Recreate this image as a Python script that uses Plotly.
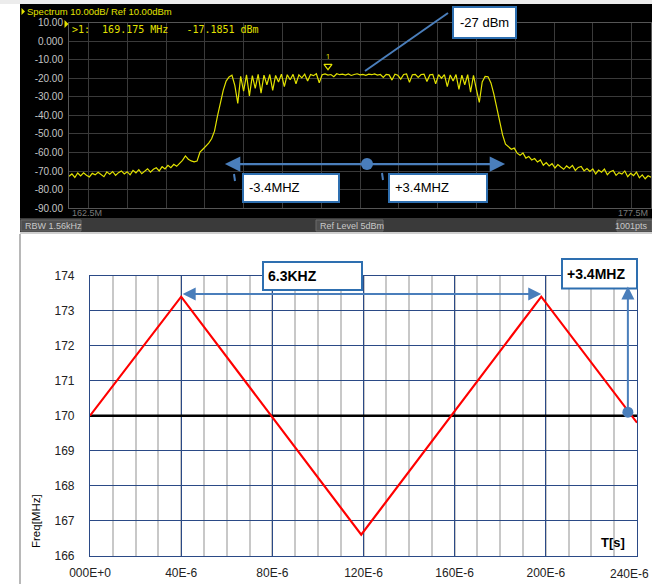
import plotly.graph_objects as go

W, H = 652, 584


def px(x):
    return x / W


def py(y):
    return 1 - y / H


# ---------------- Spectrum analyzer (top panel) ----------------
spec_start_mhz = 162.5
spec_stop_mhz = 177.5
spec_level_dbm = [
    -72.8, -71.5, -73.4, -71.0, -72.6, -70.9, -72.2, -73.1, -71.2, -72.0,
    -70.6, -71.9, -73.0, -70.4, -71.6, -70.2, -72.3, -70.8, -69.9, -71.5,
    -70.3, -72.0, -69.6, -70.9, -69.2, -71.4, -69.8, -68.7, -70.5, -69.0,
    -68.2, -69.9, -67.6, -68.8, -66.9, -68.1, -66.3, -67.4, -65.8, -64.2,
    -61.8, -63.6, -64.5, -65.0, -64.6, -59.8, -58.2, -56.6, -54.9, -52.6,
    -48.5, -40.5, -33.0, -26.5, -21.5, -19.3, -18.4, -24.0, -33.5, -19.0,
    -27.0, -18.2, -29.5, -18.6, -25.5, -17.9, -28.0, -18.3, -23.5, -18.0,
    -26.5, -18.5, -22.0, -17.8, -24.5, -18.1, -20.8, -17.9, -23.0, -18.2,
    -19.8, -17.8, -21.5, -18.0, -18.6, -17.6, -22.4, -18.1, -17.7, -18.3,
    -18.0, -19.2, -17.6, -18.1, -17.8, -18.3, -17.7, -18.5, -18.0, -17.6,
    -18.2, -17.9, -18.4, -17.8, -18.1, -17.7, -18.3, -18.0, -19.5, -17.9,
    -18.2, -21.0, -17.8, -18.4, -20.5, -18.0, -17.7, -22.2, -18.1, -17.9,
    -19.6, -18.0, -17.8, -21.8, -18.2, -17.9, -23.0, -18.1, -20.0, -18.0,
    -24.5, -18.2, -21.5, -18.0, -26.0, -18.3, -23.5, -18.1, -27.5, -18.4,
    -26.0, -33.0, -22.0, -19.0, -19.2, -22.5, -28.5, -36.0, -44.0, -50.5,
    -55.5, -57.0, -58.2, -57.6, -60.3, -61.5, -60.2, -63.0, -62.1, -64.0,
    -63.2, -65.1, -64.0, -66.8, -65.4, -67.2, -66.0, -68.3, -66.5, -67.8,
    -69.0, -67.2, -68.4, -66.9, -69.6, -68.0, -67.5, -69.9, -68.6, -70.2,
    -68.8, -71.5, -69.4, -70.6, -68.9, -71.9, -70.3, -69.6, -72.3, -70.8,
    -71.6, -69.9, -73.0, -71.2, -72.4, -70.5, -73.6, -72.0, -74.1, -72.5,
    -73.2,
]
n_pts = len(spec_level_dbm)
spec_freq_mhz = [spec_start_mhz + (spec_stop_mhz - spec_start_mhz) * i / (n_pts - 1)
                 for i in range(n_pts)]

spec_grid_mhz = list(range(163, 178))
spec_y_ticks = [10, 0, -10, -20, -30, -40, -50, -60, -70, -80, -90]
spec_y_labels = ["10.00", "0.000", "-10.00", "-20.00", "-30.00", "-40.00",
                 "-50.00", "-60.00", "-70.00", "-80.00", "-90.00"]

marker_freq_mhz = 169.175
marker_level_dbm = -17.1851
band_low_mhz = 166.48
band_high_mhz = 173.74
arrow_level_dbm = -66.2

# ---------------- Triangle sweep (bottom panel) ----------------
sweep_t_us = [0, 40, 119, 198, 240]
sweep_f_mhz = [170.0, 173.4, 166.6, 173.4, 169.8]
center_f_mhz = 170.0
x_tick_vals = [0, 40, 80, 120, 160, 200]
x_tick_text = ["000E+0", "40E-6", "80E-6", "120E-6", "160E-6", "200E-6"]
x_last_tick_text = "240E-6"
y_tick_vals = [166, 167, 168, 169, 170, 171, 172, 173, 174]

period_arrow_t = (40, 198)
period_arrow_f = 173.48
dev_arrow_t = 236
dev_arrow_f = (170.1, 173.69)

YEL = "#e2e200"
BLUE = "#4a7ebb"
BOXBLUE = "#2e6fb0"
NAVY = "#2b4a86"

fig = go.Figure()

fig.add_trace(go.Scatter(
    x=spec_freq_mhz, y=spec_level_dbm, mode="lines",
    line=dict(color=YEL, width=1.2), xaxis="x", yaxis="y", showlegend=False,
    hoverinfo="skip"))
fig.add_trace(go.Scatter(
    x=[marker_freq_mhz], y=[-13.5], mode="markers+text", text=["1"],
    textposition="top center", textfont=dict(color=YEL, size=8),
    marker=dict(symbol="triangle-down-open", size=7, color=YEL, line=dict(width=1.2)),
    xaxis="x", yaxis="y", showlegend=False, hoverinfo="skip"))
fig.add_trace(go.Scatter(
    x=[marker_freq_mhz], y=[-91.6], mode="markers",
    marker=dict(symbol="triangle-up", size=7, color=YEL),
    xaxis="x", yaxis="y", showlegend=False, hoverinfo="skip", cliponaxis=False))

fig.add_trace(go.Scatter(
    x=[0, 240], y=[center_f_mhz, center_f_mhz], mode="lines",
    line=dict(color="black", width=2.5), xaxis="x2", yaxis="y2",
    showlegend=False, hoverinfo="skip"))
fig.add_trace(go.Scatter(
    x=sweep_t_us, y=sweep_f_mhz, mode="lines",
    line=dict(color="#ff0000", width=2.2), xaxis="x2", yaxis="y2",
    showlegend=False, hoverinfo="skip"))
fig.add_trace(go.Scatter(
    x=[dev_arrow_t], y=[dev_arrow_f[0]], mode="markers",
    marker=dict(color=BLUE, size=11), xaxis="x2", yaxis="y2",
    showlegend=False, hoverinfo="skip", cliponaxis=False))

shapes = []


def rect(x0, y0, x1, y1, fill, line_color=None, lw=0, layer="below"):
    shapes.append(dict(type="rect", xref="paper", yref="paper",
                       x0=px(x0), x1=px(x1), y0=py(y1), y1=py(y0),
                       fillcolor=fill, layer=layer,
                       line=dict(color=line_color or fill, width=lw)))


def line(x0, y0, x1, y1, color, w, layer="above"):
    shapes.append(dict(type="line", xref="paper", yref="paper",
                       x0=px(x0), x1=px(x1), y0=py(y0), y1=py(y1),
                       layer=layer, line=dict(color=color, width=w)))


def tri(pts, color):
    d = "M " + " L ".join(f"{px(a)},{py(b)}" for a, b in pts) + " Z"
    shapes.append(dict(type="path", xref="paper", yref="paper", path=d,
                       fillcolor=color, line=dict(color=color, width=0), layer="above"))


rect(0, 0, 652, 4, "#ececec")
rect(20, 4, 652, 219, "#000000")
rect(20, 218, 652, 232, "#3a3a3a")
rect(21, 220, 81, 231, "#4e4e4e", "#6a6a6a", 1)
rect(316, 220, 383, 231, "#4e4e4e", "#6a6a6a", 1)
rect(617, 220, 652, 231, "#4e4e4e", "#6a6a6a", 1)
rect(20, 232, 652, 234, "#cfcfcf")
line(20, 234, 20, 584, "#b8b8b8", 2, layer="below")
tri([(21.5, 8), (21.5, 15), (25, 11.5)], YEL)
tri([(64.5, 20), (64.5, 28), (68.5, 24)], YEL)

# spectrum annotations
line(448, 13, 365, 71, BLUE, 2)
rect(453, 7, 516, 38, "white", BOXBLUE, 2, layer="above")
rect(243, 174, 339, 202, "white", BOXBLUE, 2, layer="above")
rect(389, 174, 487, 202, "white", BOXBLUE, 2, layer="above")
line(234, 174, 235, 181, BLUE, 2)
line(382, 173, 383, 180, BLUE, 2)
shapes.append(dict(type="circle", xref="paper", yref="paper",
                   x0=px(361), x1=px(373), y0=py(170), y1=py(158),
                   fillcolor=BLUE, line=dict(color=BLUE, width=0), layer="above"))

# bottom chart boxes
rect(263, 262, 362, 290, "white", BOXBLUE, 2, layer="above")
rect(562, 259, 637, 288.5, "white", BOXBLUE, 2, layer="above")

annotations = []


def text(x, y, s, size, color, xanchor="left", bold=False, family="Liberation Sans",
         angle=0):
    annotations.append(dict(xref="paper", yref="paper", x=px(x), y=py(y),
                            text=f"<b>{s}</b>" if bold else s, showarrow=False,
                            xanchor=xanchor, yanchor="middle", textangle=angle,
                            font=dict(size=size, color=color, family=family)))


text(25, 11.5, "Spectrum 10.00dB/ Ref 10.00dBm", 9.5, YEL)
text(70, 29, f">1:  {marker_freq_mhz:.3f} MHz   {marker_level_dbm:.4f} dBm", 10, YEL,
     family="DejaVu Sans Mono")
text(70, 213, "162.5M", 9, "#7a7a7a")
text(650, 213, "177.5M", 9, "#7a7a7a", xanchor="right")
text(23, 225.5, "RBW 1.56kHz", 9, "#c8c8c8")
text(318, 225.5, "Ref Level 5dBm", 9, "#c8c8c8")
text(650, 225.5, "1001pts", 9, "#c8c8c8", xanchor="right")

text(458, 22, "-27 dBm", 13, "black")
text(247, 187.5, "-3.4MHZ", 13, "black")
text(393, 187.5, "+3.4MHZ", 13, "black")

text(266, 275.5, "6.3KHZ", 14, "black", bold=True)
text(565, 274, "+3.4MHZ", 14, "black", bold=True)
text(613, 542, "T[s]", 13, "black", xanchor="center", bold=True)
text(36, 521, "Freq[MHz]", 11.5, "black", xanchor="center", angle=-90)
text(651, 574, x_last_tick_text, 12, "#222222", xanchor="right")

# arrows
annotations.append(dict(xref="x", yref="y", axref="x", ayref="y",
                        x=band_high_mhz, y=arrow_level_dbm,
                        ax=band_low_mhz, ay=arrow_level_dbm, text="",
                        showarrow=True, arrowhead=2, arrowside="end+start",
                        arrowsize=1.4, arrowwidth=2.2, arrowcolor=BLUE, standoff=0,
                        startstandoff=0))
annotations.append(dict(xref="x2", yref="y2", axref="x2", ayref="y2",
                        x=period_arrow_t[1], y=period_arrow_f,
                        ax=period_arrow_t[0], ay=period_arrow_f, text="",
                        showarrow=True, arrowhead=2, arrowside="end+start",
                        arrowsize=1.3, arrowwidth=2, arrowcolor=BLUE, standoff=0,
                        startstandoff=0))
annotations.append(dict(xref="x2", yref="y2", axref="x2", ayref="y2",
                        x=dev_arrow_t, y=dev_arrow_f[1],
                        ax=dev_arrow_t, ay=dev_arrow_f[0], text="",
                        showarrow=True, arrowhead=2, arrowside="end",
                        arrowsize=1.3, arrowwidth=2, arrowcolor=BLUE, standoff=0))

fig.update_layout(
    width=W, height=H, margin=dict(l=0, r=0, t=0, b=0, autoexpand=False),
    paper_bgcolor="white", plot_bgcolor="rgba(0,0,0,0)",
    shapes=shapes, annotations=annotations, showlegend=False,
    xaxis=dict(domain=[px(69), px(651)], range=[spec_start_mhz, spec_stop_mhz],
               tickvals=spec_grid_mhz, showticklabels=False, ticks="",
               showgrid=True, gridcolor="#3a3a3a", gridwidth=1, zeroline=False,
               showline=True, linecolor="#555555", linewidth=1, mirror=True,
               anchor="y", fixedrange=True, automargin=False),
    yaxis=dict(domain=[py(208.3), py(22.5)], range=[-90, 10],
               tickvals=spec_y_ticks, ticktext=spec_y_labels, ticks="",
               tickfont=dict(size=10, color="#c4c4c4", family="Liberation Sans"),
               ticklabelstandoff=3,
               showgrid=True, gridcolor="#3a3a3a", gridwidth=1, zeroline=False,
               showline=True, linecolor="#555555", linewidth=1, mirror=True,
               anchor="x", fixedrange=True, automargin=False),
    xaxis2=dict(domain=[px(90), px(637)], range=[0, 240],
                tickvals=x_tick_vals, ticktext=x_tick_text, ticks="",
                tickfont=dict(size=12, color="#222222", family="Liberation Sans"),
                ticklabelstandoff=6,
                showgrid=True, gridcolor=NAVY, gridwidth=1.2, zeroline=False,
                minor=dict(dtick=10, showgrid=True, gridcolor="#c8c8c8", gridwidth=1.5),
                showline=True, linecolor=NAVY, linewidth=1.2, mirror=True,
                anchor="y2", fixedrange=True, automargin=False),
    yaxis2=dict(domain=[py(555.7), py(275.7)], range=[166, 174],
                tickvals=y_tick_vals, ticks="",
                tickfont=dict(size=12, color="#222222", family="Liberation Sans"),
                ticklabelstandoff=12,
                showgrid=True, gridcolor=NAVY, gridwidth=1.2, zeroline=False,
                showline=True, linecolor=NAVY, linewidth=1.2, mirror=True,
                anchor="x2", fixedrange=True, automargin=False),
)

fig.write_html(
    "out.html",
    config={"responsive": False, "displayModeBar": False},
    post_script="document.body.style.margin='0';document.body.style.overflow='hidden';",
)
